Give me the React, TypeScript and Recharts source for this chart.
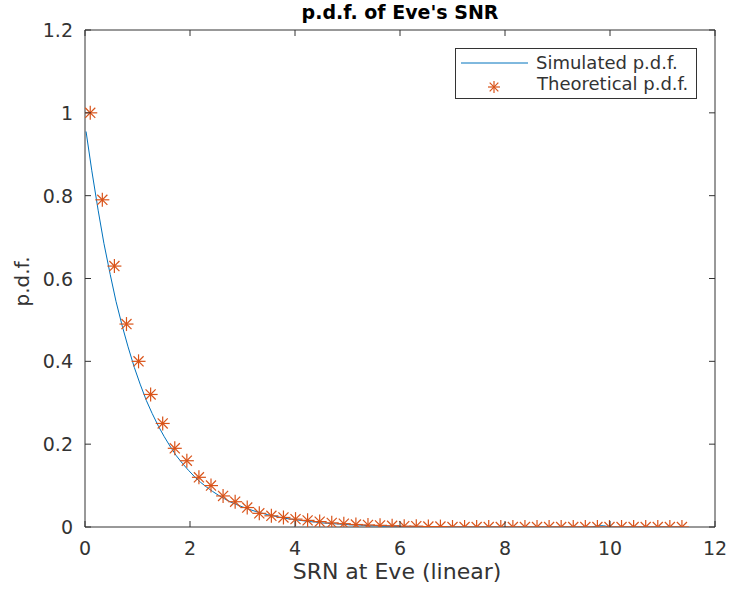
import React from 'react';
import { ScatterChart, Scatter, XAxis, YAxis, Legend } from 'recharts';

// tick values
const xTicks = [0, 2, 4, 6, 8, 10, 12];
const yTicks = [0, 0.2, 0.4, 0.6, 0.8, 1, 1.2];

// simulated p.d.f. (histogram estimate)
const simX = [
  0.02, 0.13, 0.25, 0.36, 0.48, 0.59, 0.71, 0.82, 0.94, 1.05,
  1.17, 1.28, 1.4, 1.51, 1.63, 1.74, 1.86, 1.97, 2.09, 2.2,
  2.32, 2.43, 2.55, 2.66, 2.78, 2.89, 3.01, 3.12, 3.24, 3.35,
  3.47, 3.58, 3.7, 3.81, 3.93, 4.04, 4.16, 4.27, 4.39, 4.5,
  4.62, 4.73, 4.85, 4.96, 5.08, 5.19, 5.31, 5.42, 5.54, 5.65,
  5.88, 6.11, 6.57, 7.03, 8.0, 9.0, 9.65, 9.77, 9.88, 10.0,
  10.5, 11.0, 11.4,
];
const simY = [
  0.955, 0.86, 0.765, 0.685, 0.61, 0.545, 0.485, 0.435, 0.385, 0.345,
  0.305, 0.274, 0.243, 0.218, 0.193, 0.172, 0.153, 0.137, 0.121, 0.108,
  0.096, 0.086, 0.076, 0.068, 0.06, 0.054, 0.048, 0.043, 0.038, 0.034,
  0.03, 0.027, 0.024, 0.021, 0.019, 0.017, 0.015, 0.013, 0.012, 0.01,
  0.009, 0.008, 0.007, 0.006, 0.005, 0.005, 0.004, 0.003, 0.003, 0.002,
  0.002, 0.001, 0.001, 0, 0, 0, 0, 0.003, 0.003, 0,
  0, 0, 0,
];

// theoretical p.d.f., the asterisks
const theoX = [
  0.1, 0.33, 0.56, 0.79, 1.02, 1.25, 1.48, 1.71, 1.94, 2.17,
  2.4, 2.63, 2.86, 3.09, 3.32, 3.55, 3.78, 4.01, 4.24, 4.47,
  4.7, 4.93, 5.16, 5.39, 5.62, 5.85, 6.08, 6.31, 6.54, 6.77,
  7.0, 7.23, 7.46, 7.69, 7.92, 8.15, 8.38, 8.61, 8.84, 9.07,
  9.3, 9.53, 9.76, 9.99, 10.22, 10.45, 10.68, 10.91, 11.14, 11.37,
];
const theoY = [
  1.0, 0.79, 0.63, 0.49, 0.4, 0.32, 0.25, 0.19, 0.16, 0.12,
  0.1, 0.075, 0.061, 0.047, 0.033, 0.027, 0.023, 0.019, 0.016, 0.013,
  0.01, 0.008, 0.006, 0.005, 0.004, 0.003, 0.002, 0.002, 0.001, 0.001,
  0, 0, 0, 0, 0, 0, 0, 0, 0, 0,
  0, 0, 0, 0, 0, 0, 0, 0, 0, 0,
];

const simData = simX.map((x, i) => ({ x, y: simY[i] }));
const theoData = theoX.map((x, i) => ({ x, y: theoY[i] }));

const AXIS = '#333333';
const TEXT = '#333333';
const BLUE = '#0072BD';
const ORANGE = '#D95319';
const FONT = '"DejaVu Sans", sans-serif';

// layout
const W = 729;
const H = 594;
const LEFT = 85;
const RIGHT = 715;
const TOP = 30;
const BOTTOM = 527;
const TICK = 6;

const Asterisk = (props: any) => {
  const { cx, cy, r = 7 } = props;
  if (cx == null || cy == null) return <g />;
  const d = r * 0.72;
  return (
    <g stroke={ORANGE} strokeWidth={1.2} fill="none">
      <line x1={cx - r} y1={cy} x2={cx + r} y2={cy} />
      <line x1={cx} y1={cy - r} x2={cx} y2={cy + r} />
      <line x1={cx - d} y1={cy - d} x2={cx + d} y2={cy + d} />
      <line x1={cx - d} y1={cy + d} x2={cx + d} y2={cy - d} />
    </g>
  );
};

const NoDot = () => <g />;

const BottomTick = (props: any) => {
  const { x, y, payload } = props;
  return (
    <g>
      <line x1={x} x2={x} y1={y} y2={y - TICK} stroke={AXIS} />
      <text x={x} y={y + 28} textAnchor="middle" fill={TEXT} fontSize={19} fontFamily={FONT}>
        {payload.value}
      </text>
    </g>
  );
};

const TopTick = (props: any) => {
  const { x } = props;
  return <line x1={x} x2={x} y1={TOP} y2={TOP + TICK} stroke={AXIS} />;
};

const LeftTick = (props: any) => {
  const { x, y, payload } = props;
  return (
    <g>
      <line x1={x} x2={x + TICK} y1={y} y2={y} stroke={AXIS} />
      <text x={x - 12} y={y + 7} textAnchor="end" fill={TEXT} fontSize={19} fontFamily={FONT}>
        {payload.value}
      </text>
    </g>
  );
};

const RightTick = (props: any) => {
  const { y } = props;
  return <line x1={RIGHT} x2={RIGHT - TICK} y1={y} y2={y} stroke={AXIS} />;
};

const renderTitle = () => (
  <text x={(LEFT + RIGHT) / 2} y={TOP - 11} textAnchor="middle" fill="#000" fontSize={19} fontWeight="bold" fontFamily={FONT}>
    p.d.f. of Eve's SNR
  </text>
);

const renderXLabel = () => (
  <text x={(LEFT + RIGHT) / 2 - 3} y={BOTTOM + 52} textAnchor="middle" fill={TEXT} fontSize={22} fontFamily={FONT}>
    SRN at Eve (linear)
  </text>
);

const yLabelY = (TOP + BOTTOM) / 2 + 3;
const renderYLabel = () => (
  <text
    x={29}
    y={yLabelY}
    transform={`rotate(-90 29 ${yLabelY})`}
    textAnchor="middle"
    fill={TEXT}
    fontSize={20}
    fontFamily={FONT}
  >
    p.d.f.
  </text>
);

const renderLegend = () => (
  <svg width={242} height={51} style={{ display: 'block' }}>
    <rect x={0.5} y={0.5} width={241} height={50} fill="#fff" stroke={AXIS} />
    <line x1={6} x2={73} y1={15} y2={15} stroke={BLUE} strokeWidth={1} />
    <text x={81} y={21} fill={TEXT} fontSize={18} fontFamily={FONT}>
      Simulated p.d.f.
    </text>
    <Asterisk cx={39} cy={39} r={6} />
    <text x={82} y={42} fill={TEXT} fontSize={18} fontFamily={FONT}>
      Theoretical p.d.f.
    </text>
  </svg>
);

const App: React.FC = () => {
  return (
    <div style={{ position: 'absolute', left: 0, top: 0, width: W, height: H, background: '#fff' }}>
      <ScatterChart
        width={W}
        height={H}
        margin={{ top: TOP - 1, right: W - RIGHT - 1, bottom: 0, left: 0 }}
      >
        <XAxis
          type="number"
          dataKey="x"
          domain={[0, 12]}
          ticks={xTicks}
          interval={0}
          allowDataOverflow
          height={H - BOTTOM}
          axisLine={{ stroke: AXIS }}
          tickLine={false}
          tickSize={0}
          tickMargin={0}
          tick={<BottomTick />}
          label={renderXLabel}
        />
        <XAxis
          xAxisId="top"
          orientation="top"
          type="number"
          dataKey="x"
          domain={[0, 12]}
          ticks={xTicks}
          interval={0}
          allowDataOverflow
          height={1}
          axisLine={{ stroke: AXIS }}
          tickLine={false}
          tickSize={0}
          tickMargin={0}
          tick={<TopTick />}
          label={renderTitle}
        />
        <YAxis
          type="number"
          dataKey="y"
          domain={[0, 1.2]}
          ticks={yTicks}
          interval={0}
          allowDataOverflow
          width={LEFT}
          axisLine={{ stroke: AXIS }}
          tickLine={false}
          tickSize={0}
          tickMargin={0}
          tick={<LeftTick />}
          label={renderYLabel}
        />
        <YAxis
          yAxisId="right"
          orientation="right"
          type="number"
          dataKey="y"
          domain={[0, 1.2]}
          ticks={yTicks}
          interval={0}
          allowDataOverflow
          width={1}
          axisLine={{ stroke: AXIS }}
          tickLine={false}
          tickSize={0}
          tickMargin={0}
          tick={<RightTick />}
        />
        <Legend
          content={renderLegend}
          verticalAlign="middle"
          align="center"
          wrapperStyle={{ left: 455, top: 48, width: 242, height: 51 }}
        />
        <Scatter
          name="Simulated p.d.f."
          data={simData}
          line={{ stroke: BLUE, strokeWidth: 1 }}
          lineType="joint"
          shape={<NoDot />}
          isAnimationActive={false}
        />
        <Scatter
          name="Theoretical p.d.f."
          data={theoData}
          shape={<Asterisk />}
          isAnimationActive={false}
        />
        {/* invisible copy so the mirrored top/right axes have a series */}
        <Scatter
          name="box"
          xAxisId="top"
          yAxisId="right"
          data={theoData}
          shape={<NoDot />}
          legendType="none"
          isAnimationActive={false}
        />
      </ScatterChart>
    </div>
  );
};

export default App;
